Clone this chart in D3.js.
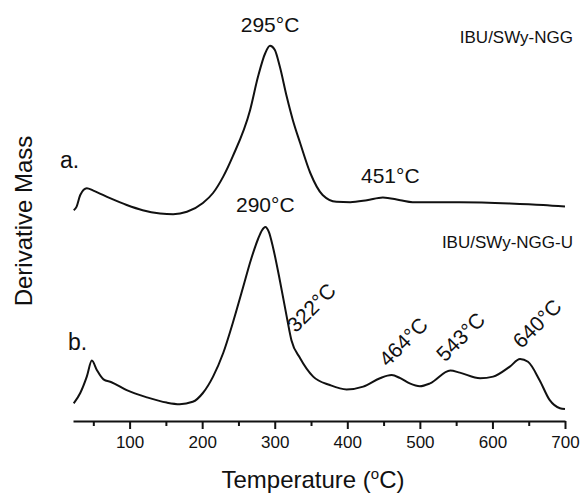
<!DOCTYPE html>
<head>
    <meta charset="utf-8">
    <script src="https://d3js.org/d3.v7.min.js"></script>
    <style>
        body { margin:0; background:#fff; }
        text { font-family: 'Liberation Sans', Arial, sans-serif; fill:#111; }
        .line { fill:none; stroke:#111; stroke-width:2; stroke-linejoin:round; }
        .axis path, .axis line { stroke:#111; stroke-width:2; }
        .axis text { font-size:17px; font-family: 'Liberation Sans', Arial, sans-serif; fill:#111; }
        .peak { font-size:21px; }
        .tag { font-size:23px; }
        .series-name { font-size:17px; }
        .axis-title { font-size:24px; }
    </style>
</head>
<body>
<script>
    // curve a: IBU/SWy-NGG
    const tempA = [23, 27, 32, 41, 50, 73, 96, 118, 142, 160, 179, 201, 215, 229, 242, 266, 277,
                   287, 293.5, 300, 307, 316.5, 325, 335, 349, 366, 385, 404, 427, 449, 473, 490, 555, 624, 670, 700];
    const massA = [52.7, 53.6, 56.5, 58.2, 57.6, 55.7, 54, 52.7, 51.9, 51.7, 52.3, 54.5, 57, 61.1, 66.1, 77.7, 86.1,
                   92, 93.8, 92.8, 88.6, 81.1, 75.2, 69.5, 62, 56.5, 54.8, 54.7, 55.2, 55.9, 55.2, 54.7, 54.7, 54.4, 54, 53.6];

    // curve b: IBU/SWy-NGG-U
    const tempB = [23, 32, 41, 48, 55, 64, 75, 96, 124, 151, 169, 187, 201, 215, 229, 242.5, 256, 267, 277,
                   282.5, 287, 292, 297.5, 307, 316.5, 323, 335, 353, 376, 399, 422, 445, 461, 473, 486, 500,
                   514, 542, 555, 583, 601, 624, 638, 649, 665, 679, 693, 700];
    const massB = [4.4, 7, 11.1, 15.1, 12.7, 10.4, 9.7, 7.7, 5.9, 4.6, 4.2, 4.8, 7, 11.1, 17, 24.7, 33.2, 40.2, 45.5,
                   47.7, 48.5, 47.2, 43.5, 35.2, 26.1, 20.2, 15.7, 11.1, 9, 7.9, 8.6, 10.7, 11.5, 10.7, 9.4, 8.7,
                   9.4, 12.6, 12.1, 10.7, 11.1, 13.6, 15.5, 14.8, 10.2, 5.2, 3.2, 3];

    const majorTicks = [100, 200, 300, 400, 500, 600, 700];
    const minorTicks = [50, 150, 250, 350, 450, 550, 650];

    const width = 581, height = 493;

    const xScale = d3.scaleLinear().domain([22, 700]).range([73, 565]);
    const yScale = d3.scaleLinear().domain([0, 100]).range([421, 21]);

    const line = d3.line()
        .x(d => xScale(d[0]))
        .y(d => yScale(d[1]))
        .curve(d3.curveMonotoneX);

    const svg = d3.select('body').append('svg')
        .attr('width', width)
        .attr('height', height);

    const seriesA = tempA.map((t, i) => [t, massA[i]]);
    const seriesB = tempB.map((t, i) => [t, massB[i]]);

    svg.append('path').datum(seriesA).attr('class', 'line').attr('d', line);
    svg.append('path').datum(seriesB).attr('class', 'line').attr('d', line);

    // x axis
    svg.append('g')
        .attr('class', 'axis x')
        .attr('transform', `translate(0,${yScale(0)})`)
        .call(d3.axisBottom(xScale).tickValues(majorTicks).tickSize(8).tickPadding(7).tickSizeOuter(0));

    const minor = svg.append('g')
        .attr('class', 'axis minor')
        .attr('transform', `translate(0,${yScale(0)})`)
        .call(d3.axisBottom(xScale).tickValues(minorTicks).tickSize(5).tickFormat(''));
    minor.select('.domain').remove();

    svg.append('text')
        .attr('class', 'axis-title')
        .attr('x', 313)
        .attr('y', 488)
        .attr('text-anchor', 'middle')
        .call(t => {
            t.append('tspan').text('Temperature (');
            t.append('tspan').attr('font-size', '15px').attr('dy', -9).text('o');
            t.append('tspan').attr('dy', 9).text('C)');
        });

    svg.append('text')
        .attr('class', 'axis-title')
        .attr('transform', 'translate(32,221) rotate(-90)')
        .attr('text-anchor', 'middle')
        .text('Derivative Mass');

    // series tags
    svg.append('text').attr('class', 'tag').attr('x', 60).attr('y', 168).text('a.');
    svg.append('text').attr('class', 'tag').attr('x', 68).attr('y', 350).text('b.');

    svg.append('text').attr('class', 'series-name')
        .attr('x', 573).attr('y', 43).attr('text-anchor', 'end').text('IBU/SWy-NGG');
    svg.append('text').attr('class', 'series-name')
        .attr('x', 573).attr('y', 248).attr('text-anchor', 'end').text('IBU/SWy-NGG-U');

    // peak labels, placed from the curve values
    function valueAt(series, t) {
        const i = d3.bisector(d => d[0]).left(series, t);
        const a = series[Math.max(0, i - 1)], b = series[Math.min(series.length - 1, i)];
        if (a[0] === b[0]) return a[1];
        return a[1] + (b[1] - a[1]) * (t - a[0]) / (b[0] - a[0]);
    }

    const peakA = seriesA[d3.maxIndex(massA)];
    const peakB = seriesB[d3.maxIndex(massB)];

    svg.append('text').attr('class', 'peak').attr('text-anchor', 'middle')
        .attr('x', xScale(peakA[0])).attr('y', yScale(peakA[1]) - 14).text('295°C');
    svg.append('text').attr('class', 'peak').attr('text-anchor', 'middle')
        .attr('x', xScale(451) + 6).attr('y', yScale(valueAt(seriesA, 451)) - 15).text('451°C');
    svg.append('text').attr('class', 'peak').attr('text-anchor', 'middle')
        .attr('x', xScale(peakB[0])).attr('y', yScale(peakB[1]) - 15).text('290°C');

    const rotated = [
        {label: '322°C', t: 322, dx: 5, dy: -3},
        {label: '464°C', t: 464, dx: -6, dy: -8},
        {label: '543°C', t: 543, dx: -6, dy: -8},
        {label: '640°C', t: 640, dx: 0, dy: -10}
    ];
    svg.selectAll('.rot')
        .data(rotated)
        .enter().append('text')
        .attr('class', 'peak rot')
        .attr('transform', d => `translate(${xScale(d.t) + d.dx},${yScale(valueAt(seriesB, d.t)) + d.dy}) rotate(-45)`)
        .text(d => d.label);
</script>
</body>
